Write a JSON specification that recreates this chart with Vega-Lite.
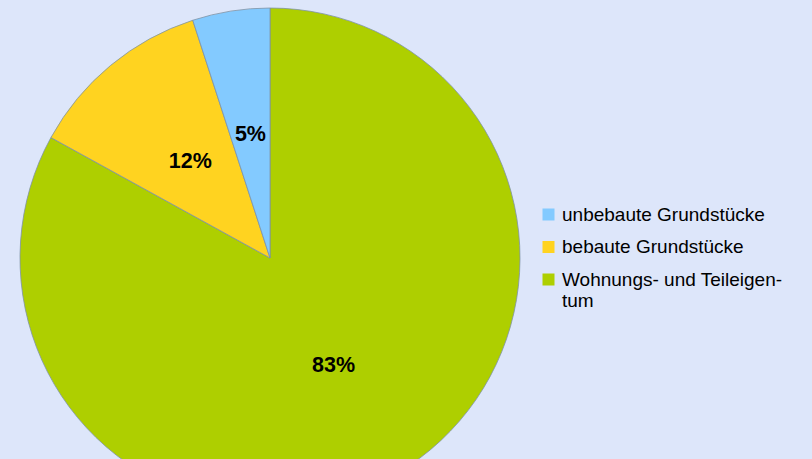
{
  "$schema": "https://vega.github.io/schema/vega-lite/v6.json",
  "autosize": {"type": "none"},
  "padding": {"left": 0, "top": 0, "right": 272, "bottom": 0},
  "width": 540,
  "height": 516,
  "background": "#dde6fa",
  "data": {
    "values": [
      {"Art": "Wohnungs- und Teileigentum", "Anteil": 83, "Rang": 1, "Text": "83%"},
      {"Art": "bebaute Grundstücke", "Anteil": 12, "Rang": 2, "Text": "12%"},
      {"Art": "unbebaute Grundstücke", "Anteil": 5, "Rang": 3, "Text": "5%"}
    ]
  },
  "encoding": {
    "theta": {"field": "Anteil", "type": "quantitative", "stack": true},
    "order": {"field": "Rang", "type": "quantitative"}
  },
  "layer": [
    {
      "mark": {"type": "arc", "outerRadius": 250, "stroke": "#7f93a6", "strokeWidth": 0.8},
      "encoding": {
        "color": {
          "field": "Art",
          "type": "nominal",
          "scale": {
            "domain": ["unbebaute Grundstücke", "bebaute Grundstücke", "Wohnungs- und Teileigentum"],
            "range": ["#83caff", "#ffd320", "#aecf00"]
          },
          "legend": {
            "title": null,
            "orient": "none",
            "legendX": 539,
            "legendY": 205,
            "symbolType": "square",
            "symbolSize": 144,
            "symbolStrokeWidth": 0,
            "labelFontSize": 19,
            "labelFont": "Liberation Sans",
            "labelColor": "#000000",
            "labelLimit": 300,
            "labelOffset": 4,
            "rowPadding": 12.5,
            "labelExpr": "datum.label == 'Wohnungs- und Teileigentum' ? ['Wohnungs- und Teileigen-', 'tum'] : datum.label",
            "encode": {"labels": {"update": {"lineHeight": {"value": 25}}}}
          }
        }
      }
    },
    {
      "mark": {"type": "text", "radius": 125, "fontSize": 21.5, "fontWeight": "bold", "font": "Liberation Sans", "color": "#000000"},
      "encoding": {
        "text": {"field": "Text", "type": "nominal"}
      }
    }
  ],
  "config": {"view": {"stroke": null}}
}
